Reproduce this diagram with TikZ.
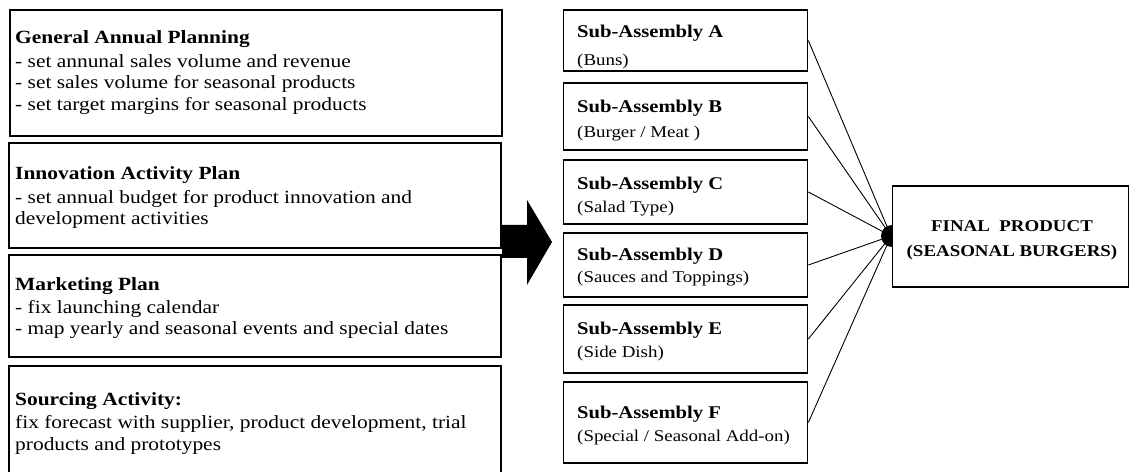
\documentclass[tikz,border=0pt]{standalone}
\usepackage{fontspec}
\setmainfont{Liberation Serif}[FakeStretch=1.15]
\begin{document}
\begin{tikzpicture}[x=1bp,y=-1bp,
  box/.style={draw, line width=1.6bp, inner sep=0},
  ltxt/.style={anchor=north west, inner sep=0, align=left, font=\fontsize{18.7}{22}\selectfont},
  stitle/.style={anchor=base west, inner sep=0, font=\fontsize{18}{22}\selectfont\bfseries},
  ssub/.style={anchor=base west, inner sep=0, font=\fontsize{16.5}{20}\selectfont},
  ftxt/.style={anchor=base, inner sep=0, font=\fontsize{16.5}{20}\selectfont\bfseries},
  link/.style={line width=0.9bp}]
\useasboundingbox (0,0) rectangle (1130,472);
% left boxes
\node[box, minimum width=494, minimum height=126] (gap) at (256,73) {};
\node[box, minimum width=494, minimum height=105] (iap) at (255,195.5) {};
\node[box, minimum width=494, minimum height=102] (mkt) at (255,306) {};
\node[box, minimum width=494, minimum height=114] (src) at (255,423) {};
\node[ltxt] (gapt) at (15,27.6) {\strut\textbf{General Annual Planning}\\[2bp]
- set annunal sales volume and revenue\\
- set sales volume for seasonal products\\
- set target margins for seasonal products};
\node[ltxt] (iapt) at (15,163.6) {\strut\textbf{Innovation Activity Plan}\\[2bp]
- set annual budget for product innovation and\\
development activities};
\node[ltxt] (mktt) at (15,274.6) {\strut\textbf{Marketing Plan}\\[1bp]
- fix launching calendar\\
- map yearly and seasonal events and special dates};
\node[ltxt] (srct) at (15,390.3) {\strut\textbf{Sourcing Activity:}\\[1bp]
fix forecast with supplier, product development, trial\\
products and prototypes};
% big arrow
\fill (502,225) -- (527,225) -- (527,200) -- (552,242) -- (527,285) -- (527,258) -- (502,258) -- cycle;
% sub-assemblies
\node[box, minimum width=245, minimum height=61] (sa) at (685.5,40.5) {};
\node[box, minimum width=245, minimum height=67] (sb) at (685.5,116.5) {};
\node[box, minimum width=245, minimum height=64] (sc) at (685.5,192) {};
\node[box, minimum width=245, minimum height=64] (sd) at (685.5,265) {};
\node[box, minimum width=245, minimum height=68] (se) at (685.5,339) {};
\node[box, minimum width=245, minimum height=81] (sf) at (685.5,422.5) {};
\node[stitle] (sat) at (577,38) {Sub-Assembly A};
\node[ssub] (sas) at (577,66) {(Buns)};
\node[stitle] (sbt) at (577,113) {Sub-Assembly B};
\node[ssub] (sbs) at (577,138) {(Burger / Meat )};
\node[stitle] (sct) at (577,190) {Sub-Assembly C};
\node[ssub] (scs) at (577,213) {(Salad Type)};
\node[stitle] (sdt) at (577,261) {Sub-Assembly D};
\node[ssub] (sds) at (577,283) {(Sauces and Toppings)};
\node[stitle] (set) at (577,335) {Sub-Assembly E};
\node[ssub] (ses) at (577,358) {(Side Dish)};
\node[stitle] (sft) at (577,419) {Sub-Assembly F};
\node[ssub] (sfs) at (577,442) {(Special / Seasonal Add-on)};
% final product
\node[box, minimum width=237, minimum height=101] (fin) at (1010.5,236.5) {};
\node[ftxt] (fint) at (1012,232) {FINAL\ \ PRODUCT};
\node[ftxt] (fins) at (1012,257) {(SEASONAL BURGERS)};
% junction
\coordinate (j) at (891,236);
\foreach \s in {sa,sb,sc,sd,se,sf} \draw[link] (\s.east) -- (j);
\fill (j) ++(1,11) arc[start angle=90, end angle=270, radius=11] -- cycle;
\end{tikzpicture}
\end{document}
